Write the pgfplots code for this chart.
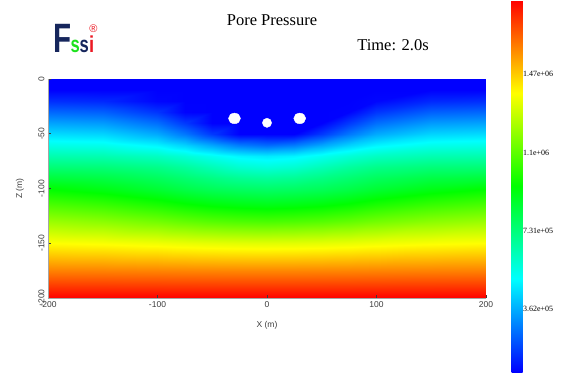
\documentclass[border=0pt]{standalone}
\usepackage{fontspec}
\setmainfont{Liberation Serif}
\newfontfamily\arialf{Liberation Sans}
\usepackage{pgfplots}
\pgfplotsset{compat=1.18}
\definecolor{logonavy}{RGB}{22,38,92}
\definecolor{logogreen}{RGB}{30,225,30}
\definecolor{logored}{RGB}{235,25,35}
\definecolor{tickgray}{RGB}{60,60,60}
\pgfplotsset{
  colormap={bcgyr}{rgb255=(0,0,255) rgb255=(0,255,255) rgb255=(0,255,0) rgb255=(255,255,0) rgb255=(255,0,0)}
}
\begin{document}
\begin{tikzpicture}
\useasboundingbox (0pt,0pt) rectangle (582pt,-373pt);
% logo
\node[anchor=base west, inner sep=0pt, xscale=0.72, text=logonavy] at (53pt,-52pt) {\arialf\bfseries\fontsize{41}{41}\selectfont F};
\node[anchor=base west, inner sep=0pt, xscale=0.72, text=logogreen] at (70.5pt,-52pt) {\arialf\bfseries\fontsize{23}{23}\selectfont s};
\node[anchor=base west, inner sep=0pt, xscale=0.72, text=logonavy] at (79.5pt,-52pt) {\arialf\bfseries\fontsize{23}{23}\selectfont s};
\node[anchor=base west, inner sep=0pt, xscale=0.8, text=logored] at (89pt,-52pt) {\arialf\bfseries\fontsize{23}{23}\selectfont i};
\node[inner sep=0pt, text=logored] at (93.5pt,-28.5pt) {\arialf\fontsize{11}{11}\selectfont ®};
% titles
\node[inner sep=0pt] at (272pt,-20pt) {\fontsize{16.5}{18}\selectfont Pore Pressure};
\node[inner sep=0pt] at (393pt,-45pt) {\fontsize{16.5}{18}\selectfont Time: 2.0s};
\begin{axis}[
  at={(48pt,-298pt)}, anchor=south west,
  scale only axis, width=438pt, height=219pt,
  xmin=-200, xmax=200, ymin=-200, ymax=0,
  axis on top,
  axis x line*=bottom, axis y line*=left,
  axis line style={gray!70, line width=0.6pt, -},
  tick align=inside, major tick length=3pt,
  tick style={tickgray, line width=0.6pt},
  xtick={-200,-100,0,100,200},
  xticklabels={-200,-100,0,100,200},
  ytick={0,-50,-100,-150,-200},
  yticklabels={0,-50,-100,-150,-200},
  ticklabel style={font=\arialf\fontsize{8.5}{10}\selectfont, text=tickgray},
  yticklabel style={rotate=90, anchor=south},
  xlabel={X (m)}, ylabel={Z (m)},
  label style={font=\arialf\fontsize{8.5}{10}\selectfont, text=tickgray},
  xlabel style={at={(axis description cs:0.5,-0.125)}, anchor=center},
  ylabel style={at={(axis description cs:-0.064,0.5)}, anchor=center},
  colormap name=bcgyr,
  point meta min=65000, point meta max=1820000,
  colorbar,
  colorbar style={
    at={(parent axis.north east)}, anchor=north west,
    xshift=17pt, yshift=79pt,
    scale only axis, width=11pt, height=372pt,
    axis line style={draw opacity=0},
    scaled y ticks=false,
    major tick length=0pt,
    ytick={362000,731000,1100000,1470000},
    yticklabels={3.62e+05,7.31e+05,1.1e+06,1.47e+06},
    yticklabel style={font=\fontsize{8}{9}\selectfont, text=black, xshift=-3pt},
  },
]
\addplot[surf, shader=interp, mesh/cols=13, point meta=\thisrow{v}] table {
x z v
-200 0 65000
-150 0 65000
-100 0 65000
-75 0 65000
-50 0 65000
-25 0 65000
0 0 65000
25 0 65000
50 0 65000
75 0 65000
100 0 65000
150 0 65000
200 0 65000

-200 -10 65000
-150 -10 65000
-100 -10 65000
-75 -10 65000
-50 -10 65000
-25 -10 65000
0 -10 65000
25 -10 65000
50 -10 65000
75 -10 65000
100 -10 65000
150 -10 65000
200 -10 65000

-200 -20 144000
-150 -20 133000
-100 -20 74000
-75 -20 65000
-50 -20 65000
-25 -20 65000
0 -20 65000
25 -20 65000
50 -20 65000
75 -20 65000
100 -20 74000
150 -20 133000
200 -20 144000

-200 -30 244000
-150 -30 231000
-100 -30 156000
-75 -30 68500
-50 -30 65000
-25 -30 65000
0 -30 65000
25 -30 65000
50 -30 65000
75 -30 68500
100 -30 156000
150 -30 231000
200 -30 244000

-200 -40 346000
-150 -40 332000
-100 -40 255000
-75 -40 163000
-50 -40 65000
-25 -40 65000
0 -40 65000
25 -40 65000
50 -40 65000
75 -40 163000
100 -40 255000
150 -40 332000
200 -40 346000

-200 -50 444000
-150 -50 431000
-100 -50 358000
-75 -50 271000
-50 -50 163000
-25 -50 65000
0 -50 65000
25 -50 65000
50 -50 163000
75 -50 271000
100 -50 358000
150 -50 431000
200 -50 444000

-200 -60 544000
-150 -60 535000
-100 -60 484000
-75 -60 425000
-50 -60 350000
-25 -60 276000
0 -60 246000
25 -60 276000
50 -60 350000
75 -60 425000
100 -60 484000
150 -60 535000
200 -60 544000

-200 -70 644000
-150 -70 639000
-100 -70 609000
-75 -70 574000
-50 -70 530000
-25 -70 486000
0 -70 469000
25 -70 486000
50 -70 530000
75 -70 574000
100 -70 609000
150 -70 639000
200 -70 644000

-200 -80 742000
-150 -80 737000
-100 -80 707000
-75 -80 672000
-50 -80 628000
-25 -80 584000
0 -80 567000
25 -80 584000
50 -80 628000
75 -80 672000
100 -80 707000
150 -80 737000
200 -80 742000

-200 -90 842000
-150 -90 826000
-100 -90 785000
-75 -90 751000
-50 -90 718000
-25 -90 688000
0 -90 676000
25 -90 688000
50 -90 718000
75 -90 751000
100 -90 785000
150 -90 826000
200 -90 842000

-200 -100 942000
-150 -100 907000
-100 -100 855000
-75 -100 820000
-50 -100 793000
-25 -100 776000
0 -100 767000
25 -100 776000
50 -100 793000
75 -100 820000
100 -100 855000
150 -100 907000
200 -100 942000

-200 -115 1074000
-150 -115 1041000
-100 -115 991000
-75 -115 957000
-50 -115 932000
-25 -115 916000
0 -115 907000
25 -115 916000
50 -115 932000
75 -115 957000
100 -115 991000
150 -115 1041000
200 -115 1074000

-200 -130 1206000
-150 -130 1178000
-100 -130 1136000
-75 -130 1108000
-50 -130 1086000
-25 -130 1072000
0 -130 1065000
25 -130 1072000
50 -130 1086000
75 -130 1108000
100 -130 1136000
150 -130 1178000
200 -130 1206000

-200 -150 1381000
-150 -150 1371000
-100 -150 1355000
-75 -150 1344000
-50 -150 1336000
-25 -150 1331000
0 -150 1329000
25 -150 1331000
50 -150 1336000
75 -150 1344000
100 -150 1355000
150 -150 1371000
200 -150 1381000

-200 -175 1601000
-150 -175 1599000
-100 -175 1596000
-75 -175 1594000
-50 -175 1593000
-25 -175 1592000
0 -175 1592000
25 -175 1592000
50 -175 1593000
75 -175 1594000
100 -175 1596000
150 -175 1599000
200 -175 1601000

-200 -200 1820000
-150 -200 1820000
-100 -200 1820000
-75 -200 1820000
-50 -200 1820000
-25 -200 1820000
0 -200 1820000
25 -200 1820000
50 -200 1820000
75 -200 1820000
100 -200 1820000
150 -200 1820000
200 -200 1820000
};
\addplot[only marks, mark=*, mark size=6pt, draw=white, fill=white, mark options={yscale=0.88}] coordinates {(-29.7,-36) (29.9,-36)};
\addplot[only marks, mark=*, mark size=4.6pt, draw=white, fill=white] coordinates {(0,-40)};
\end{axis}
\end{tikzpicture}
\end{document}
